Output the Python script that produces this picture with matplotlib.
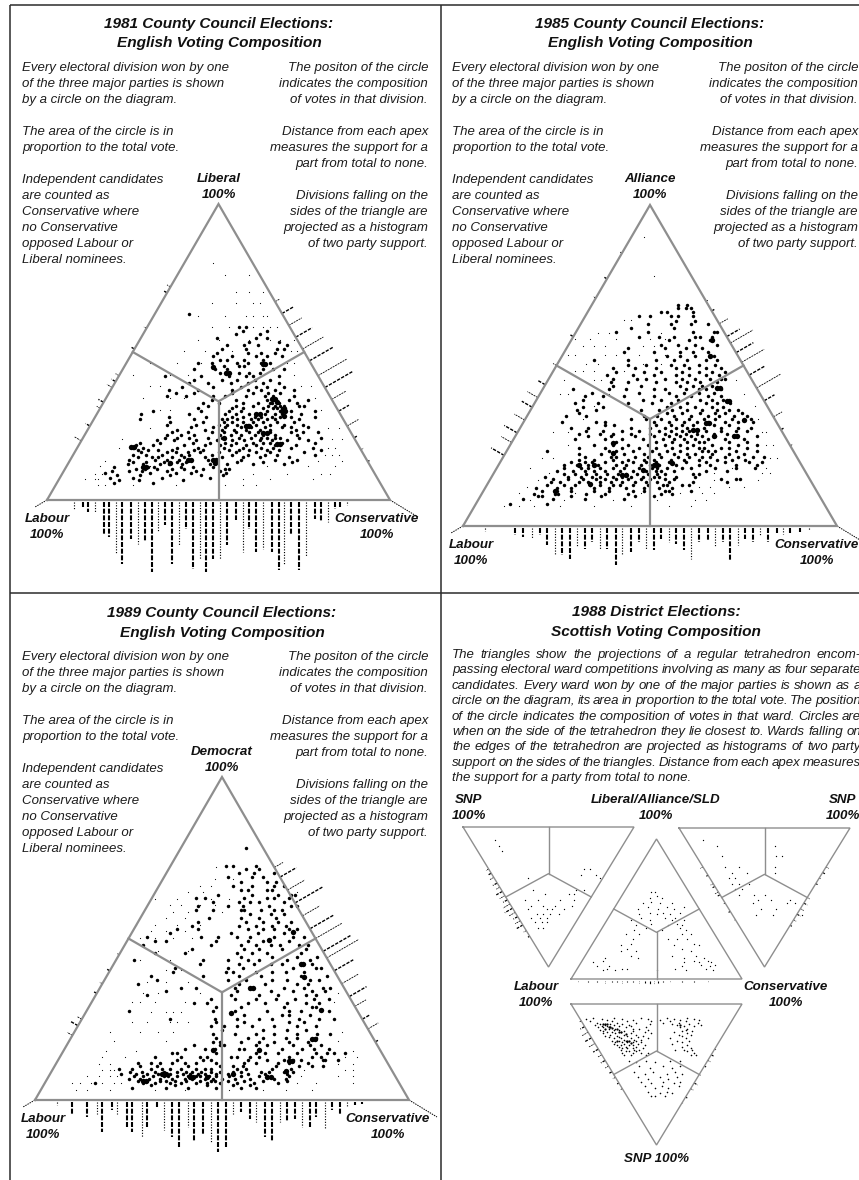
import matplotlib
matplotlib.use("Agg")
import matplotlib.pyplot as plt

plt.rcParams['font.family'] = 'Liberation Sans'

# ---------- data: {third-party share %: [Con minus Lab margin %, ...]} ----------
big_1981 = {
 5.6:[-61,-38], 6.7:[-58,-46.5,-20.5], 7.4:[-63,-50,-33,-5], 8.3:[-59,-46,-28,-10,2.5],
 9.1:[-66,-40,-25,4.5,-16], 9.8:[-62,-52,-44.5,-30,-13,1], 10.6:[-48,-43,-36,-27,-20,-9,3.5,6],
 11.2:[-61,-41,-37.5,-22,-3,-15], 12.1:[-53,-44,-34,-29,-21,-5,5,20,38],
 12.9:[-50,-42,-32,-24,-19,-2,-1,11,26,43], 13.6:[-52,-37,-30,-23,-6,13,33,46],
 14.4:[-47,-39,-35,-27,-20,-8,2,14,24,41], 15.2:[-50,-42,-33,-22,-17,-4,8,17,27,34,56],
 16.1:[-45,-30,-25,-18,-11,0,10,22,30,50], 16.9:[-47,-41,-35,-27,-14,-9,6,12,18,28,35,60],
 17.7:[-50,-44,-24,-12,3,14,25,32,42,55], 18.6:[-48,-38,-20,-8,1,7,16,22,33,45],
 19.3:[-46,-34,-15,-5,4,10,20,26,30,37,56], 20.2:[-36,-26,-13,-1,8,15,24,31,40,52],
 21.1:[-31,-24,-17,-6,2,12,19,25,28,33,36,47,60], 22.0:[-30,-22,-14,1,7,13,21,26,33,46],
 22.9:[-27,-18,-4,3,10,18,23,30,42,49,58], 23.7:[-24,-8,2,9,16,24,30,45],
 24.6:[-16,-3,4,13,19,27,37,42,52], 25.5:[-30,-13,0,5,11,17,22,30,38,49],
 26.4:[-28,-9,3,8,14,20,26,34,44], 27.3:[-46,-14,2,5,11,19,23,28,33,47],
 28.2:[-29,-7,8,14,21,25,31,36,42,56], 29.1:[-45,-17,4,10,18,24,27,33,37,48],
 30.0:[-38,-10,6,13,28,36,38,42,56], 31.0:[-12,8,14,26,32,34,37,39],
 31.8:[-6,10,20,29,33,36,38,47,50], 32.9:[-9,0,14,23,30,31,35,46],
 33.8:[-4,10,28,32,33,41,52], 35.0:[-30,-19,-3,4,16,27,32,44], 36.1:[-25,-14,8,20,29,36],
 37.2:[-29,-12,8,17,25,33,44], 38.3:[-21,-3,13,22,28,38], 39.5:[-17,-6,7,17,26,35],
 40.6:[-14,2,11,21,30], 41.8:[-31,-10,6,16,20,35], 43.0:[1,12,18,24],
 44.1:[-14,-2,5,26,32,38], 45.2:[3,12,15], 46.3:[-12,-4,11,17,25,30], 47.4:[1,5,15,26],
 48.6:[-3,8,22,28,37], 49.7:[-1,17,25,33], 51:[2,16,34,38], 52.2:[5,15,23,40],
 53.4:[18,35], 54.6:[-1,22,28], 56:[10,24], 57.2:[14,28], 58.4:[12,16], 63:[-17],
}
large_1981 = {
 34:[31,33], 33:[34], 30:[37,38.5], 29:[22,24], 28.5:[38], 13.5:[-3,-1.5,-18,-16], 12.5:[-28,-2], 11:[-44,-42.5],
 18:[-51,-49], 22.5:[26,28], 19:[34,36], 25:[16,18], 21:[3], 46:[26,27], 43:[4.5,6], 45:[-3],
}
fine_1981 = {
 5.2:[-70,-66,-50,-25,4,14,22], 7.1:[-78,-72,-70,-20,14,30,55], 8.8:[-72,-68,-24,20,40,60,65],
 11.4:[-69,-40,28,52,68], 13.2:[-66,58,72], 15.3:[62,66,70], 17.4:[-58,64,68], 20.5:[-56,66,72],
 24.2:[-40,64,70], 30.4:[-34,-28,60], 34.3:[-44,-28,-20,56], 38.6:[-40,-34,48,54], 42.3:[-50,-28,-18,44],
 46.2:[-40,-24,-10,40,44], 50.3:[-20,-8,8,42,46], 54.2:[-12,0,18,30,36,44], 58.3:[-4,6,20,26,30,34],
 62.2:[-12,4,16,20,26,28], 66.4:[-4,10,20,24], 70.2:[10,18,26], 76:[4,18], 80:[-3],
}
big_1985 = {
 7:[-75,-55], 8.4:[-68,-52,-35,-14], 9.2:[-60,-58,-42,-26,-8,2], 10.1:[-62,-51,-49,-34,-24,-12,6,12],
 10.9:[-58,-50,-42,-30,-22,-9,-3,8,10,22], 11.8:[-61,-50,-42,-30,-22,-13,-3,5,12],
 12.7:[-55,-46,-40,-32,-27,-20,-16,-9,-1,7,9,17,21], 13.6:[-53,-48,-38,-33,-27,-21,-15,-8,-2,4,10,23,41],
 14.5:[-52,-44,-36,-29,-24,-18,-12,-5,0,8,13,38,46,48], 15.3:[-56,-44,-37,-31,-27,-20,-15,-10,-4,2,5,14,24],
 16.2:[-46,-40,-34,-29,-23,-17,-13,-7,-1,4,8,23,26], 17.1:[-50,-41,-35,-30,-24,-16,-9,-2,3,6,13,30,41],
 18:[-46,-37,-33,-27,-20,-14,-6,1,4,9,17,22,35,46,56], 18.9:[-46,-39,-33,-28,-18,-13,-5,0,5,14,26,32,46,57],
 19.8:[-42,-35,-31,-24,-15,-9,-2,3,10,19,30,40,53,60], 20.7:[-38,-30,-20,-12,-3,2,11,18,26,36,44,51],
 21.6:[-35,-21,-18,-8,-1,6,15,21,28,32,40,47,55,61], 22.5:[-38,-26,-20,-14,-3,5,13,20,24,33,42,50],
 23.4:[-55,-22,-18,-9,1,9,16,28,31,35,46,57], 24.3:[-38,-24,-15,-6,3,12,20,26,29,38,42,52],
 25.2:[-30,-20,-12,-1,8,16,23,33,47,57], 26.1:[-18,3,12,20,26,29,42,52], 27:[-40,-24,-15,-4,7,13,18,24,31,40,50],
 27.9:[-33,-21,-8,2,10,16,22,28,35,45,57], 28.8:[-38,-27,-20,-10,0,8,14,19,25,34,41],
 29.7:[-34,-25,-15,-6,5,11,17,21,30,38,46,52], 30.6:[-42,-33,-10,0,8,14,20,29,38,47,54],
 31.5:[-24,-19,3,11,17,23,34,42], 32.4:[-47,-29,-24,2,10,18,25,31,40,47,55], 33.3:[-10,-2,6,14,21,29,35,44,54],
 34.2:[-45,-34,-3,4,13,22,31,37,45,52], 35.1:[-38,9,17,27,35,40,49], 36:[-39,-29,-5,5,12,20,28,36,42,47],
 37.1:[-36,-25,9,16,24,33,39], 38.2:[-40,-28,-12,1,11,20,30,36,43], 39.3:[-36,-4,6,15,27,33,39],
 40.4:[-35,-25,-14,2,14,22,31,38], 41.5:[-31,-6,10,18,26,34], 42.6:[-41,-22,-13,2,8,19,26,30,38],
 43.7:[-20,-5,16,23,28,33], 44.8:[-21,-12,3,14,20,27,36], 45.9:[-20,-7,-2,8,17,24,32,38,40],
 47:[-23,-9,2,14,21,30,37], 48.1:[-18,-3,6,17,26,33,40], 49.2:[-20,-8,3,14,21,30,38], 50.3:[-12,-2,11,18,26,35],
 51.6:[-30,-12,3,13,20,30,36], 52.9:[9,16,24,34], 54.1:[-14,2,16,23,31], 55.3:[-12,8,19,28],
 56.5:[6,15,24,36], 57.8:[10,21,32], 59:[-6,5,13,24,27,33], 60.4:[-18,-1,23,34,36], 61.7:[-10,13], 62.9:[-1,11,22,31],
 64:[14,24], 65.3:[-6,0,11,15,23], 66.6:[6,9,23], 68:[15,19,22], 69:[15,20],
}
large_1985 = {
 22.6:[-20], 25.8:[-20], 19:[-30,2,3.5,-38], 19.5:[12], 30:[23,25], 32:[30,31.5], 43:[36,37.5], 39:[41,42.5],
 53:[32], 58:[33], 28:[45,46.5,34], 33:[50], 17.5:[-4], 16:[-15,-13], 13:[-32], 11:[-51],
}
fine_1985 = {
 6.3:[-78,-70,-62,-48,-30,-10,10,22], 8.2:[-64,-46,-20,4,24,30], 10.4:[-70,-40,-5,16,28,34],
 12.3:[-66,26,32,42,50], 14.2:[-60,34,58], 16.4:[-54,34,60,64], 18.2:[-64,44,62], 21.3:[-58,-52,64,68],
 25.3:[-44,62,66], 29.2:[-52,-44,60,62], 33.4:[-36,58], 37.3:[-30,56], 41.2:[-48,-44,-22,50],
 45.4:[-46,-30,-26,46], 48.2:[-40,-36,-30,-14], 50.4:[-34,-28,-4,6], 53.3:[-44,-40,-24,-18,-6,8],
 56.2:[-36,-30,-24,-4,2], 58.3:[-40,-32,-18,0,8], 60.2:[-28,-22,6], 64.2:[-14,-10], 78:[2], 90:[-3],
}
big_1989 = {
 3.8:[-48,-30,-18,-3,10,18], 4.5:[-38,-25,-8,6,15], 5.2:[-68,-42,-36,-28,-22,-14,-8,-1,8,17,30],
 5.9:[-45,-40,-33,-30,-25,-19,-12,-6,-4,3,12,22,35], 6.6:[-50,-44,-39,-33,-27,-20,-16,-9,-5,0,7,15,28,34],
 7.3:[-47,-42,-37,-31,-29,-24,-18,-14,-12,-7,-3,4,10,20,24,36], 8:[-54,-46,-40,-34,-28,-21,-17,-13,-9,-3,3,14,23,35],
 8.8:[-49,-43,-36,-31,-24,-19,-16,-11,-6,-1,6,10,21,25,33,38], 9.7:[-55,-48,-38,-32,-28,-22,-14,-9,-6,8,13,27,37],
 10.6:[-44,-35,-18,-1,6,11,29,41,48,54], 11.5:[-45,-38,-33,-27,-20,-14,-3,12,18,30,36,46],
 12.4:[-24,-10,-6,14,24,33,38,42,54,55,62], 13.3:[-36,-22,-12,-8,5,8,15,20,36,48,53],
 14.4:[-27,-24,-3,18,23,30,40,50,56,60,66], 15.7:[-20,-9,-4,9,12,20,32,43,49,57],
 16.9:[-15,-1,1,18,24,38,47,53], 18.1:[-5,-1,10,20,28,36,46], 19.3:[-3,14,22,34,40,50],
 20.5:[-5,7,18,28,40,51,58], 21.7:[0,22,35,45], 22.9:[-6,1,8,16,28,40,50], 24:[-3,12,36,44],
 25.2:[-28,-4,8,20,27,41,52,60], 26.4:[12,32,36,47], 27.6:[-50,-5,7,24,36,42,57], 28.8:[-3,10,33,48,50],
 30:[-15,-8,14,23,35,45,52], 31.2:[-6,7,18,29,39,49,57], 32.4:[-40,5,20,30,45,50], 33.6:[-30,8,26,38,48,55],
 34.8:[-22,-14,7,16,33,44,54,58], 36:[-45,9,23,40,46], 37.2:[-35,3,13,27,35,47,52], 38.4:[-38,-10,9,21,42,56],
 39.6:[-26,2,6,18,27,34,44], 40.8:[-25,3,11,38,50,53], 42:[-12,9,17,26,32,43,48], 43.2:[-47,-10,3,14,20,35,47],
 44.4:[10,27,40,51], 45.6:[-36,-20,8,16,24,42], 46.8:[-16,12,20,32,45], 48:[-42,-6,10,18,26,31,41,46],
 49.2:[-36,-30,-3,14,22,36], 50.4:[-40,-11,-2,8,15,28,38,44], 51.6:[-28,5,19,33],
 52.8:[-24,-13,14,22,28,36,40], 54:[-16,9,18,27,34], 55.2:[-13,13,22,30,37], 56.4:[-7,10,20,29],
 57.6:[15,26,33], 58.8:[-14,-5,10,12,21,28,32], 60:[-13,3,11,25,37,40], 61.2:[-5,9,15,20,33],
 62.4:[-14,-9,12,24,28,36], 63.6:[-2,16,30,37,39], 65:[10,14,24,27], 66.3:[6,16,28,33],
 67.6:[10,24,29], 69:[16,3,22], 70.2:[9,17,28], 71.4:[13,20], 72.6:[2,6,18], 78:[13],
}
large_1989 = {
 7:[-8,-17,-15.5,24,26], 8:[-32,-30,6], 6:[-42,-40.5], 9:[34], 15.5:[20,-5], 19:[48,49.5], 28:[53], 52:[38],
 49.6:[25], 42:[42,43.5], 38:[44], 34.6:[15,16.5], 27:[5], 12:[36,37.5],
}
fine_1989 = {
 3.2:[-78,-72,-60,-36,-20,4,22,34,48], 5.3:[-80,-76,-70,-64,-58,-54,40,50,70], 7.4:[-72,-66,-60,-56,42,62,70],
 9.2:[-64,-60,-58,44,66,70], 11.3:[-66,-60,62,70], 13.4:[-64,-52,66,72], 15.2:[-62,-46,70], 18.3:[-58,-30,62],
 21.2:[-60,-44,-34,-26,64], 24.3:[-48,-40,-28,-24,-18], 27.2:[-38,-30,-26,-22], 30.3:[-48,-44,-36,-20,60],
 33.2:[-42,-34,-12,62], 36.4:[-40,-30,-18], 40.2:[-30,-22], 43.3:[-44,-28], 46.2:[-34,-18], 50.3:[-50,-44,-36,-26,-16],
 52.2:[-38,-30,-20], 54.3:[-46,-36,-24,-12], 56.2:[-30,-20], 58.3:[-26,-18,0], 60.4:[-28,-22,-12,-4,4],
 62.2:[-36,-24,-14,-6,4], 64.3:[-18,-10,40], 66.2:[-12,-6], 68.3:[-4,6], 72.2:[-3,2],
}

# Scottish triangles: {fourth-party share %: [margin %, ...]}
fine_snp_lab = {
 9.2:[-62], 13.4:[-58], 17.3:[-54], 30.1:[42,48], 34.2:[38,56], 36.3:[-24,60], 45.2:[-18,32,42], 48.1:[-4,24,30],
 52.3:[-28,-12,14,30], 56.2:[-20,-6,8,28], 58.4:[-24,-2,4,18], 62.1:[-14,-6,2,12], 65.3:[-10,-2,-20], 68.2:[-16,-8,-2],
 72.3:[-6,-12],
}
fine_lib = {
 6.2:[-62,-48,0,34,66], 7.1:[-58,-40,-34,22,58], 9.3:[-70,-56,30,62], 10.2:[52,68], 12.1:[-74,32,50,64], 13.2:[-62,44,60],
 15.3:[-60,-22,32,56], 16.2:[-30,18,46], 20.1:[-42,-24,40], 21.3:[-34,30], 24.2:[-42,20,50], 25.3:[-30,44], 28.3:[-28,14,24,36],
 32.2:[-36,-20,30,40], 35.1:[-26,6,34], 36.2:[-12,28], 38.3:[-24,14,30], 39.2:[-6,24], 42.2:[-30,-8,18,32], 43.3:[-18,10,22],
 46.1:[-20,0,16], 47.2:[-8,8,28], 50.3:[-22,2,20], 51.2:[-10,12,32], 54.2:[-16,4,18], 55.1:[-6], 58.2:[-8,6], 59.3:[0], 62.3:[-6,-2],
}
fine_snp_con = {
 8.3:[-72], 13.1:[-56,12], 20.2:[-50,14,20], 28.3:[-46,-30,12], 32.2:[-38,-20,12], 36.1:[-42,-34], 40.3:[-38,-30,-18],
 44.2:[-34,-26], 48.4:[-30,0,-12], 52.1:[-8,8,30], 54.3:[-14,26,36], 58.2:[-4,14], 62.3:[-10,10,44],
}
fine_snp = {
 9.6:[-74,-50,-18,12,36], 10.7:[-82,-64,-40,-10,20,44], 11.3:[-58,-28,4,28,50], 12.4:[-78,-52,-34,-6,16,34],
 13.2:[-70,-46,-24,8,26,48], 14.1:[-66,-54,-40,-8,18,38], 14.9:[-72,-60,-50,-32,24,52], 15.7:[-64,-58,-44,-30,32,44],
 16.6:[-68,-62,-54,-36,-12,28], 17.4:[-56,-48,-28,-20,36], 18.3:[-66,-50,-44,-10,34], 19.2:[-62,-38,-28,30,42],
 20.1:[-58,-52,-42,-14,20], 20.9:[-62,-48,-30,-6,36], 21.8:[-54,-38,-24,26,40], 22.6:[-60,-46,-34,-16,30],
 23.5:[-56,-44,-22], 24.4:[-50,-42,-30,-10,16,34], 25.3:[-38,-26,-18], 26.2:[-52,-44,-36,-24,24,38], 27.1:[-48,-40,-34,-28,-18,30],
 28.3:[-50,-38,-22,18], 29.1:[-46,-42,-32,-28,-14,36], 30.2:[-44,-36,-24,30], 31.2:[-40,-34,-28,-16,40], 32.4:[-42,-26,-20,22,32,42],
 33.6:[-36,-32,-24,36], 34.8:[-40,-28,-18,-10,44], 36.1:[-38,-30,-12,40,46], 40.2:[-32,-12,16,28], 41.4:[-24,-2],
 44.1:[-20,8,28], 45.3:[-8,18], 48.2:[-26,-4,22], 49.3:[-14,12,30], 52.1:[-22,4,24], 53.2:[-10,14], 55.3:[-18,8,28], 56.2:[-6,20],
 58.1:[-14,6,26], 59.3:[-2,14], 62.2:[-10,12], 63.3:[4,18], 65.2:[-6,-2,10],
}
large_snp = {
 14:[-62,-60,-58], 16:[-56,-54], 18:[-60,-46], 20:[-44,-42], 21:[-36], 26:[-46,-34,-32], 28:[-30], 15.2:[28], 17:[-52],
}

# Two-party histograms: position on the edge %, column length in divisions
base_1981_pos = [-84,-79,-76,-72,-67,-64,-60,-56,-51,-47,-43,-39,-35,-31,-27,-23,-19,-15,-11,-7,-3,1,5,10,14,18,22,26,31,35,38,42,47,51,56,60,64,68,71,75]
base_1981_len = [7,5,10,10,33,35,52,62,37,42,40,70,30,23,62,43,27,67,57,70,57,57,43,18,50,27,50,47,50,68,62,33,68,55,17,20,20,7,5,3]
right_1981_pos = [67,63,59,55,51,47,42,38,34,30,25,21,17,13]
right_1981_len = [5,14,15,19,24,27,33,33,17,12,13,4,3,2]
left_1981_pos = [72,70,58,51,42,40,38,33,31,25,20]
left_1981_len = [4,4,3,4,4,5,6,6,4,5,8]
base_1985_pos = [-88,-72,-68,-63,-59,-55,-51,-47,-43,-39,-35,-31,-27,-23,-18,-15,-10,-6,-2,2,6,10,14,18,22,26,31,35,39,43,47,51,55,59,63,68,71,75,80,85]
base_1985_len = [3,7,9,11,7,17,27,27,31,19,21,14,21,21,37,27,24,14,22,22,11,14,16,22,31,14,12,19,14,32,17,11,14,7,14,6,6,6,4,2]
right_1985_pos = [70,67,63,59,57,54,51,47,43,39,34,30,25]
right_1985_len = [2,3,10,15,26,20,26,18,28,12,10,3,3]
left_1985_pos = [85,77,71,59,50,44,40,37,33,29,26,22]
left_1985_len = [2,3,3,4,4,8,12,12,12,15,12,15]
base_1989_pos = [-88,-80,-72,-67,-64,-59,-56,-51,-48,-43,-40,-35,-31,-27,-23,-18,-15,-10,-6,-2,2,6,10,15,18,23,27,31,35,39,43,47,50,55,59,63,67,71,75]
base_1989_len = [3,12,15,12,30,8,12,25,30,35,25,5,28,35,45,25,40,33,40,50,45,12,10,17,20,35,40,20,20,17,25,25,15,27,8,12,5,3,2]
right_1989_pos = [72,69,65,61,57,53,50,46,44,40,36,32,29,25,22,18]
right_1989_len = [10,19,20,32,20,27,31,33,37,22,19,20,13,8,12,3]
left_1989_pos = [45,40,36,33,25,23,20]
left_1989_len = [2,3,3,3,5,8,6]
scot_a_left_pos = [30,33,36,40,43,46,49,52,55,58,61,64,67,70,74,78]
scot_a_left_len = [3,4,5,5,4,7,6,5,8,9,7,5,6,7,3,2]
scot_c_left_pos = [28,34,40,42,46,48,54,60,66]
scot_c_left_len = [3,2,3,3,4,3,2,2,1]
scot_c_right_pos = [28,32,36,40,50,54,58,62,66,70]
scot_c_right_len = [3,3,2,2,3,4,4,4,3,2]
scot_d_left_pos = [12,16,20,24,28,32,36,40,44,48,52,56,60]
scot_d_left_len = [2,5,7,8,7,6,5,5,4,3,3,2,2]
scot_d_right_pos = [32,36,40,44,50,56,60,66,70]
scot_d_right_len = [2,3,3,2,2,4,3,2,1]
scot_b_base_pos = [-92,-80,-70,-60,-52,-46,-40,-34,-28,-20,-14,-8,-3,2,8,16,30,44,60]
scot_b_base_len = [1,1,1,2,1,1,2,1,1,2,2,3,3,2,1,1,1,1,1]

titles = {
 'a':("1981 County Council Elections:", "English Voting Composition"),
 'b':("1985 County Council Elections:", "English Voting Composition"),
 'c':("1989 County Council Elections:", "English Voting Composition"),
 'd':("1988 District Elections:", "Scottish Voting Composition"),
}
notes_left = ["Every electoral division won by one","of the three major parties is shown","by a circle on the diagram.","",
 "The area of the circle is in","proportion to the total vote.","",
 "Independent candidates","are counted as","Conservative where","no Conservative","opposed Labour or","Liberal nominees."]
notes_right = ["The positon of the circle","indicates the composition","of votes in that division.","",
 "Distance from each apex","measures the support for a","part from total to none.","",
 "Divisions falling on the","sides of the triangle are","projected as a histogram","of two party support."]
scot_text = ["The triangles show the projections of a regular tetrahedron encom-",
 "passing electoral ward competitions involving as many as four separate",
 "candidates. Every ward won by one of the major parties is shown as a",
 "circle on the diagram, its area in proportion to the total vote. The position",
 "of the circle indicates the composition of votes in that ward. Circles are",
 "when on the side of the tetrahedron they lie closest to. Wards falling on",
 "the edges of the tetrahedron are projected as histograms of two party",
 "support on the sides of the triangles. Distance from each apex measures",
 "the support for a party from total to none."]

# ---------- page ----------
fig = plt.figure(figsize=(8.59, 11.80), dpi=100)
ax = fig.add_axes([0, 0, 1, 1])
ax.set_xlim(0, 859); ax.set_ylim(1180, 0); ax.axis('off')

INK = '#2b2b2b'; GREY = '#8e8e8e'
for xs, ys in [([10, 10], [5, 1180]), ([441, 441], [5, 1180]), ([10, 859], [5, 5]), ([10, 859], [593, 593])]:
    ax.plot(xs, ys, color=INK, lw=1.1, solid_capstyle='butt')

BODY = dict(style='italic', fontsize=9.55, color='#1c1c1c', va='baseline')
HEAD = dict(style='italic', weight='bold', fontsize=11.1, color='#111111', ha='center', va='baseline')
LAB = dict(style='italic', weight='bold', fontsize=9.6, color='#111111', ha='center', va='baseline')

def header(key, cx, y0):
    ax.text(cx, y0 + 28, titles[key][0], **HEAD)
    ax.text(cx, y0 + 47.5, titles[key][1], **HEAD)

def notes(x_left, x_right, y0):
    for i, s in enumerate(notes_left):
        if s: ax.text(x_left, y0 + 71 + 16*i, s, ha='left', **BODY)
    for i, s in enumerate(notes_right):
        if s: ax.text(x_right, y0 + 71 + 16*i, s, ha='right', **BODY)

def tri_point(t, margin, share):
    h = 0.5 + margin/200.0
    x = t['l'] + h*(t['r']-t['l'])
    y = t['base'] + share/100.0*(t['apex']-t['base'])
    return x, y

def triangle(t, lw):
    cx = (t['l']+t['r'])/2
    ax.plot([t['l'], t['r'], cx, t['l']], [t['base'], t['base'], t['apex'], t['base']],
            color=GREY, lw=lw, solid_joinstyle='miter', zorder=3)
    c = t['base'] + (t['apex']-t['base'])/3.0
    mid = (t['base']+t['apex'])/2
    ax.plot([cx, cx], [t['base'], c], color=GREY, lw=lw, zorder=3)
    ax.plot([(t['l']+cx)/2, cx, (t['r']+cx)/2], [mid, c, mid], color=GREY, lw=lw, zorder=3)

def dots(t, rows, size):
    xs, ys = [], []
    for share, margins in rows.items():
        for m in margins:
            x, y = tri_point(t, m, share)
            xs.append(x); ys.append(y)
    ax.scatter(xs, ys, s=size, marker='o', color='black', linewidths=0, zorder=2)

def base_hist(t, pos, length, unit=1.0, lw=1.5):
    sgn = 1 if t['base'] > t['apex'] else -1
    for i, (p, n) in enumerate(zip(pos, length)):
        x, y = tri_point(t, p, 0)
        w = lw if i % 3 else lw*0.55
        ax.plot([x, x], [y+2*sgn, y+2*sgn+n*unit*sgn], color='black', lw=w,
                linestyle=(0, (2.4, 0.8)) if i % 3 else (0, (1, 1.4)), zorder=1)

def edge_hist(t, side, pos, length, unit=1.0, lw=1.0):
    s = 1 if side == 'right' else -1
    sgn = 1 if t['base'] > t['apex'] else -1
    for i, (p, n) in enumerate(zip(pos, length)):
        margin = s*(100-p)
        x, y = tri_point(t, margin, p)
        dx, dy = s*0.866, -0.5*sgn
        ax.plot([x, x+dx*n*unit], [y, y+dy*n*unit], color='black', lw=lw if i % 2 else lw*0.6,
                linestyle=(0, (2.4, 1.0)), zorder=1)

# ---------- panel geometry ----------
T81 = dict(l=47, r=390, base=500, apex=204)
T85 = dict(l=463, r=837, base=526, apex=205)
T89 = dict(l=35, r=409, base=1100, apex=777)
TA = dict(l=463, r=634, base=827, apex=967)
TB = dict(l=571, r=742, base=979, apex=839)
TC = dict(l=679, r=850, base=828, apex=967)
TD = dict(l=571, r=742, base=1004, apex=1145)

for t, big, large, fine, bp, bl, rp, rl, lp, ll in [
    (T81, big_1981, large_1981, fine_1981, base_1981_pos, base_1981_len, right_1981_pos, right_1981_len, left_1981_pos, left_1981_len),
    (T85, big_1985, large_1985, fine_1985, base_1985_pos, base_1985_len, right_1985_pos, right_1985_len, left_1985_pos, left_1985_len),
    (T89, big_1989, large_1989, fine_1989, base_1989_pos, base_1989_len, right_1989_pos, right_1989_len, left_1989_pos, left_1989_len)]:
    dots(t, fine, 0.7)
    dots(t, big, 6.2)
    dots(t, large, 15)
    base_hist(t, bp, bl)
    edge_hist(t, 'right', rp, rl)
    edge_hist(t, 'left', lp, ll)
    triangle(t, 1.6)
    # 100% Conservative / Labour corner tails
    ax.plot([t['r'], t['r']+28], [t['base'], t['base']+17], color='black', lw=0.7, linestyle=(0, (1.5, 1)), zorder=1)
    ax.plot([t['l'], t['l']-12], [t['base'], t['base']+7], color='black', lw=0.7, linestyle=(0, (1.5, 1)), zorder=1)

dots(TA, fine_snp_lab, 0.9)
dots(TB, fine_lib, 0.9)
dots(TC, fine_snp_con, 0.9)
dots(TD, fine_snp, 1.3)
dots(TD, large_snp, 2.6)
edge_hist(TA, 'left', scot_a_left_pos, scot_a_left_len, lw=0.9)
edge_hist(TC, 'left', scot_c_left_pos, scot_c_left_len, lw=0.8)
edge_hist(TC, 'right', scot_c_right_pos, scot_c_right_len, lw=0.8)
edge_hist(TD, 'left', scot_d_left_pos, scot_d_left_len, lw=0.9)
edge_hist(TD, 'right', scot_d_right_pos, scot_d_right_len, lw=0.8)
base_hist(TB, scot_b_base_pos, scot_b_base_len, lw=0.8)
for t in (TA, TB, TC, TD):
    triangle(t, 1.0)

# ---------- text ----------
header('a', 219, 0); notes(22, 428, 0)
header('b', 650, 0); notes(452, 858, 0)
header('c', 222, 589); notes(22, 428, 589)
ax.text(656, 616, titles['d'][0], **HEAD)
ax.text(656, 636, titles['d'][1], **HEAD)

for x, y, a, b in [(219, 182, "Liberal", "100%"), (47, 522, "Labour", "100%"), (377, 522, "Conservative", "100%"),
                   (650, 182, "Alliance", "100%"), (471, 548, "Labour", "100%"), (817, 548, "Conservative", "100%"),
                   (222, 755, "Democrat", "100%"), (43, 1122, "Labour", "100%"), (388, 1122, "Conservative", "100%"),
                   (469, 803, "SNP", "100%"), (656, 803, "Liberal/Alliance/SLD", "100%"), (843, 803, "SNP", "100%"),
                   (536, 990, "Labour", "100%"), (786, 990, "Conservative", "100%")]:
    ax.text(x, y, a, **LAB)
    ax.text(x, y+16, b, **LAB)
ax.text(656, 1162, "SNP 100%", **LAB)

# justified paragraph, word by word
fig.canvas.draw()
rend = fig.canvas.get_renderer()
def width(s):
    tx = ax.text(0, 0, s, **BODY)
    w = tx.get_window_extent(rend).width
    tx.remove()
    return w
X0, X1 = 452, 861
for i, line in enumerate(scot_text):
    y = 658 + 15.4*i
    if i == len(scot_text)-1:
        ax.text(X0, y, line, ha='left', **BODY)
        continue
    words = line.split(' ')
    ws = [width(w) for w in words]
    gap = (X1-X0-sum(ws))/(len(words)-1)
    x = X0
    for w, wd in zip(words, ws):
        ax.text(x, y, w, ha='left', **BODY)
        x += wd+gap

fig.savefig('out.png', dpi=100)
